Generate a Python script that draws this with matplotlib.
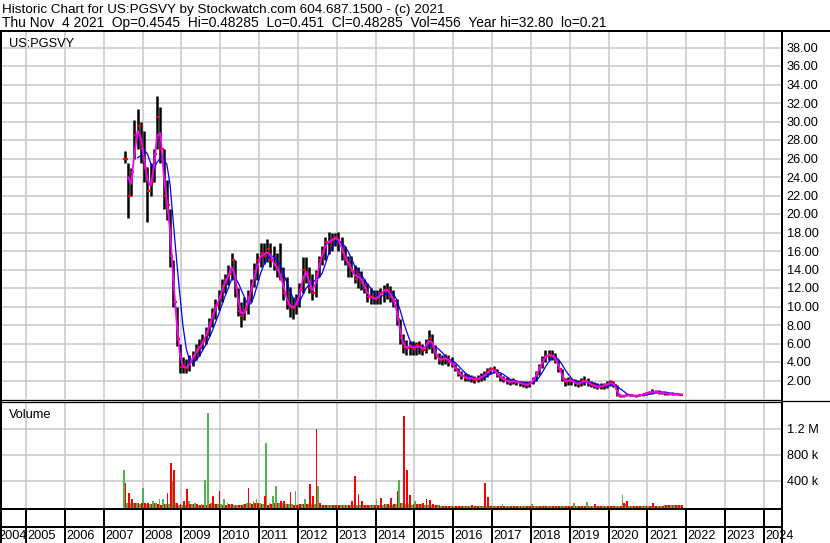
import matplotlib
matplotlib.use('Agg')
import matplotlib.pyplot as plt
from matplotlib.lines import Line2D
import numpy as np
import pandas as pd

plt.rcParams['font.family'] = ['Liberation Sans', 'DejaVu Sans']

W, H = 830, 543
FONT = 9.2

header1 = "Historic Chart for US:PGSVY by Stockwatch.com 604.687.1500 - (c) 2021"
header2 = "Thu Nov  4 2021  Op=0.4545  Hi=0.48285  Lo=0.451  Cl=0.48285  Vol=456  Year hi=32.80  lo=0.21"
symbol = "US:PGSVY"

first_month = 2007.5  # july 2007, one entry per month after that
years = list(range(2004, 2025))

# monthly low / high / close, jul 2007 .. nov 2021
lows = [
    25.5, 19.6, 22.0, 26.0, 27.0, 25.5,
    23.5, 19.1, 22.0, 23.5, 27.0, 25.5, 20.5, 19.4, 14.3, 10.0, 5.7, 2.8,
    2.8, 2.8, 3.0, 3.6, 4.2, 4.6, 5.4, 6.0, 6.8, 7.8, 8.6, 9.6,
    10.5, 11.5, 12.3, 12.9, 11.0, 9.0, 7.8, 8.5, 9.2, 10.5, 12.1, 12.9,
    14.3, 14.6, 14.8, 14.3, 13.9, 13.2, 12.9, 10.7, 9.7, 8.9, 8.6, 9.2,
    10.0, 11.5, 12.5, 11.5, 10.7, 11.0, 13.2, 14.5, 15.0, 15.7, 16.0, 16.5,
    16.0, 15.0, 14.5, 13.2, 13.2, 12.5, 12.0, 11.8, 11.5, 10.5, 10.3, 10.3,
    10.3, 10.3, 10.5, 10.8, 10.5, 10.0, 8.0, 6.0, 5.0, 4.8, 4.8, 4.8,
    4.8, 4.9, 4.8, 5.0, 5.4, 5.0, 4.3, 3.8, 3.7, 3.8, 3.6, 3.5,
    3.0, 2.5, 2.2, 1.9, 1.9, 1.8, 1.7, 1.8, 1.9, 2.1, 2.4, 2.7,
    2.8, 2.4, 2.0, 1.8, 1.6, 1.5, 1.6, 1.5, 1.4, 1.3, 1.2, 1.3,
    1.6, 2.0, 2.6, 3.3, 4.0, 4.2, 4.2, 3.9, 2.9, 2.0, 1.4, 1.5,
    1.5, 1.4, 1.3, 1.4, 1.5, 1.4, 1.3, 1.2, 1.1, 1.1, 1.1, 1.2,
    1.4, 1.3, 0.3, 0.25, 0.25, 0.28, 0.3, 0.28, 0.27, 0.28, 0.32, 0.4,
    0.5, 0.55, 0.6, 0.55, 0.5, 0.45, 0.45, 0.45, 0.42, 0.42, 0.45,
]
highs = [
    26.8, 25.5, 25.0, 30.2, 31.3, 30.0,
    29.0, 25.1, 25.5, 27.0, 32.8, 31.6, 27.0, 23.7, 20.5, 15.0, 10.0, 6.0,
    4.5, 4.3, 4.8, 5.2, 6.0, 6.5, 7.0, 7.8, 8.8, 9.8, 10.8, 11.8,
    13.0, 13.5, 14.5, 15.8, 15.0, 12.0, 10.5, 11.0, 11.8, 13.0, 14.7, 15.8,
    16.9, 16.9, 17.3, 16.9, 16.5, 15.8, 16.9, 14.3, 13.2, 12.1, 11.0, 11.3,
    12.5, 15.3, 15.3, 14.3, 13.5, 14.0, 15.5, 16.5, 17.5, 18.1, 18.0, 18.0,
    18.1, 17.5, 16.5, 15.5, 15.5, 14.5, 14.3, 13.8, 13.0, 12.5, 12.0, 11.8,
    11.8, 12.0, 12.3, 12.5, 12.2, 11.8, 10.8, 8.6, 7.0, 6.4, 6.3, 6.3,
    6.2, 6.3, 6.0, 6.5, 7.5, 7.0, 5.8, 5.0, 4.8, 4.9, 4.8, 4.5,
    3.8, 3.4, 3.0, 2.8, 2.7, 2.6, 2.5, 2.6, 2.8, 3.0, 3.3, 3.5,
    3.6, 3.2, 2.8, 2.5, 2.4, 2.2, 2.3, 2.1, 2.0, 2.0, 1.9, 2.0,
    2.4, 3.0, 3.8, 4.6, 5.3, 5.3, 5.3, 5.0, 4.2, 3.2, 2.3, 2.4,
    2.3, 2.2, 2.1, 2.3, 2.5, 2.3, 2.0, 1.8, 1.7, 1.7, 1.7, 1.9,
    2.1, 2.0, 1.5, 0.5, 0.45, 0.5, 0.5, 0.48, 0.45, 0.5, 0.6, 0.75,
    0.9, 1.05, 1.0, 0.95, 0.9, 0.85, 0.8, 0.75, 0.7, 0.65, 0.49,
]
closes = [
    26.0, 22.0, 24.5, 28.5, 29.5, 27.0,
    25.0, 22.5, 23.5, 26.5, 30.5, 27.0, 22.0, 21.0, 15.5, 10.5, 6.5, 3.5,
    3.5, 3.3, 4.2, 4.6, 5.4, 5.6, 6.3, 7.2, 8.2, 9.2, 10.2, 11.0,
    12.2, 13.0, 13.5, 15.0, 12.0, 9.5, 9.0, 9.6, 11.0, 12.4, 13.8, 15.0,
    15.8, 15.5, 16.2, 15.0, 14.5, 14.0, 13.0, 11.5, 10.3, 10.0, 9.8, 10.6,
    11.8, 14.0, 13.5, 12.0, 11.5, 13.5, 15.0, 16.0, 17.0, 17.0, 17.3, 17.5,
    17.0, 15.8, 15.0, 14.5, 13.8, 13.0, 13.5, 12.5, 12.0, 11.0, 11.0, 10.8,
    11.0, 11.5, 11.8, 11.8, 11.0, 10.6, 8.6, 6.6, 5.6, 5.5, 5.8, 5.4,
    5.8, 5.6, 5.3, 6.0, 6.6, 5.6, 4.6, 4.2, 4.3, 4.5, 4.0, 3.8,
    3.2, 2.7, 2.5, 2.3, 2.2, 2.3, 2.1, 2.2, 2.4, 2.6, 3.0, 3.2,
    3.1, 2.6, 2.3, 2.1, 1.9, 1.8, 2.0, 1.8, 1.7, 1.6, 1.5, 1.7,
    2.1, 2.8, 3.5, 4.3, 4.7, 4.8, 4.6, 4.2, 3.2, 2.2, 1.8, 2.1,
    1.9, 1.7, 1.6, 1.9, 2.0, 1.7, 1.5, 1.4, 1.3, 1.4, 1.5, 1.6,
    1.8, 1.5, 0.4, 0.35, 0.35, 0.38, 0.4, 0.36, 0.35, 0.4, 0.5, 0.6,
    0.7, 0.8, 0.75, 0.7, 0.65, 0.6, 0.55, 0.5, 0.5, 0.48, 0.48,
]

# volume in thousands, up days (green) and down days (red) per month
vol_up = [
    554, 60, 60, 50, 60, 40,
    287, 40, 40, 77, 60, 120, 120, 40, 40, 400, 50, 30,
    30, 30, 77, 40, 60, 30, 40, 415, 1440, 60, 40, 40,
    40, 120, 60, 30, 20, 30, 30, 40, 50, 60, 80, 108,
    60, 40, 980, 60, 154, 323, 60, 60, 40, 40, 40, 246,
    40, 40, 108, 40, 40, 40, 313, 30, 30, 20, 20, 30,
    20, 20, 30, 20, 20, 30, 20, 20, 20, 20, 20, 30,
    108, 30, 30, 40, 30, 30, 40, 415, 60, 40, 40, 30,
    80, 40, 40, 30, 30, 20, 20, 20, 15, 15, 15, 15,
    15, 15, 15, 15, 15, 15, 15, 15, 15, 15, 15, 15,
    15, 15, 15, 40, 15, 15, 15, 15, 15, 15, 15, 15,
    40, 15, 15, 15, 15, 15, 15, 15, 15, 15, 15, 15,
    15, 60, 15, 15, 15, 70, 15, 15, 15, 15, 15, 15,
    15, 15, 15, 15, 184, 40, 15, 15, 15, 15, 15, 15,
    15, 15, 15, 15, 15, 20, 30, 30, 30, 30, 30,
]
vol_dn = [
    364, 210, 123, 50, 50, 50,
    60, 60, 40, 50, 40, 30, 40, 210, 672, 569, 60, 40,
    77, 262, 40, 40, 40, 30, 30, 30, 40, 159, 40, 246,
    30, 30, 40, 40, 20, 30, 20, 40, 287, 40, 60, 60,
    40, 154, 30, 40, 50, 60, 80, 80, 40, 220, 30, 30,
    40, 40, 40, 349, 154, 1200, 60, 30, 30, 20, 20, 30,
    20, 20, 20, 30, 77, 462, 200, 77, 20, 20, 20, 20,
    30, 130, 40, 40, 130, 40, 246, 60, 1400, 554, 180, 40,
    40, 40, 60, 112, 100, 40, 20, 20, 15, 15, 15, 15,
    15, 15, 15, 15, 15, 30, 15, 15, 15, 364, 150, 15,
    15, 15, 15, 15, 15, 15, 15, 15, 15, 15, 15, 15,
    15, 15, 15, 15, 15, 15, 15, 15, 15, 15, 15, 15,
    15, 15, 15, 15, 15, 15, 15, 40, 15, 15, 15, 15,
    15, 15, 15, 15, 60, 80, 15, 15, 15, 15, 15, 15,
    15, 60, 15, 15, 15, 20, 30, 30, 30, 30, 30,
]

price_ticks = list(range(2, 40, 2))
vol_ticks = [400e3, 800e3, 1.2e6]
vol_tick_labels = ['400 k', '800 k', '1.2 M']

PX_YEAR = 38.84
X0 = 2005 - 26 / PX_YEAR
X1 = X0 + 782 / PX_YEAR
PX = 1 / PX_YEAR  # one pixel in years
GRID = '#c8c8c8'
GREEN = '#50b450'


def fy(y):
    return 1 - y / H


def hline(fig, y, x0, x1, lw=2):
    fig.add_artist(Line2D([x0 / W, x1 / W], [fy(y), fy(y)], transform=fig.transFigure,
                          color='black', lw=lw * 0.72, solid_capstyle='butt'))


def vline(fig, x, y0, y1, lw=2):
    fig.add_artist(Line2D([x / W, x / W], [fy(y0), fy(y1)], transform=fig.transFigure,
                          color='black', lw=lw * 0.72, solid_capstyle='butt'))


def bare(ax):
    for s in ax.spines.values():
        s.set_visible(False)
    ax.set_xlim(X0, X1)
    ax.tick_params(length=0, labelsize=FONT, labelbottom=False, labelleft=False)


def main():
    df = pd.DataFrame({'lo': lows, 'hi': highs, 'cl': closes,
                       'up': np.array(vol_up) * 1e3, 'dn': np.array(vol_dn) * 1e3})
    df['t'] = first_month + (np.arange(len(df)) + 0.5) / 12
    df['op'] = df['cl'].shift(1).fillna(df['cl'])
    df['ma_fast'] = df['cl'].rolling(2).mean()
    df['ma_slow'] = df['cl'].rolling(5).mean()

    fig = plt.figure(figsize=(W / 100, H / 100), dpi=100)
    fig.patch.set_facecolor('white')

    # price panel
    ax = fig.add_axes([0, fy(399), 782 / W, 369 / H])
    bare(ax)
    ax.set_ylim(0, 369 / 9.25)
    ax.set_xticks(years[1:])
    ax.set_yticks(price_ticks)
    ax.set_yticklabels(['{:.2f}'.format(v) for v in price_ticks])
    ax.yaxis.tick_right()
    ax.tick_params(axis='y', labelright=True, pad=3.4)
    ax.grid(True, color=GRID, lw=1.1)
    ax.set_axisbelow(True)

    ax.vlines(df['t'], df['lo'], df['hi'], color='black', lw=1.8)
    ax.hlines(df['op'], df['t'] - 1.6 * PX, df['t'], color='red', lw=1.6)
    ax.hlines(df['cl'], df['t'], df['t'] + 1.6 * PX, color='red', lw=1.6)
    ax.plot(df['t'], df['ma_slow'], color='#0000ff', lw=0.9)
    ax.plot(df['t'], df['ma_fast'], color='#ff00ff', lw=1.3)
    ax.text(9 / 782, 1 - (46.7 - 30) / 369, symbol, transform=ax.transAxes,
            fontsize=FONT, va='baseline', ha='left')

    # volume panel
    axv = fig.add_axes([0, fy(509), 782 / W, 107 / H])
    bare(axv)
    per_px = 400e3 / 26
    floor = -(509 - 506.5) * per_px
    axv.set_ylim(floor, floor + 107 * per_px)
    axv.set_xticks(years[1:])
    axv.set_yticks(vol_ticks)
    axv.set_yticklabels(vol_tick_labels)
    axv.yaxis.tick_right()
    axv.tick_params(axis='y', labelright=True, pad=3.4)
    axv.grid(True, color=GRID, lw=1.1)
    axv.set_axisbelow(True)
    axv.bar(df['t'] - 0.8 * PX, df['up'] - floor, bottom=floor, width=1.7 * PX, color=GREEN, lw=0)
    axv.bar(df['t'] + 0.8 * PX, df['dn'] - floor, bottom=floor, width=1.7 * PX, color='red', lw=0)
    axv.text(9 / 782, 1 - (418.3 - 402) / 107, 'Volume', transform=axv.transAxes,
             fontsize=FONT, va='baseline', ha='left')

    # year band under the volume
    axy = fig.add_axes([0, 0, 782 / W, 34 / H])
    bare(axy)
    axy.set_ylim(0, 1)
    axy.vlines(years[1:], 0, 1, color='black', lw=1.44)
    for yr in years:
        axy.text(max(yr + 1.5 * PX, X0 - 2 * PX), 4 / 34, str(yr), fontsize=FONT,
                 va='baseline', ha='left')

    # frame lines
    hline(fig, 31, 0, W)
    vline(fig, 1, 30, H)
    vline(fig, 781.7, 30, H)
    hline(fig, 399.6, 0, 782, lw=1.3)
    hline(fig, 402.3, 0, 782, lw=1.3)
    hline(fig, 401, 782, W, lw=1.3)
    hline(fig, 509.3, 0, 782)
    hline(fig, 526.8, 0, 782)

    fig.text(1.7 / W, fy(13.3), header1, fontsize=9.7, va='baseline', ha='left')
    fig.text(1.7 / W, fy(26.7), header2, fontsize=9.9, va='baseline', ha='left')

    fig.savefig('out.png', dpi=100)


if __name__ == '__main__':
    main()
